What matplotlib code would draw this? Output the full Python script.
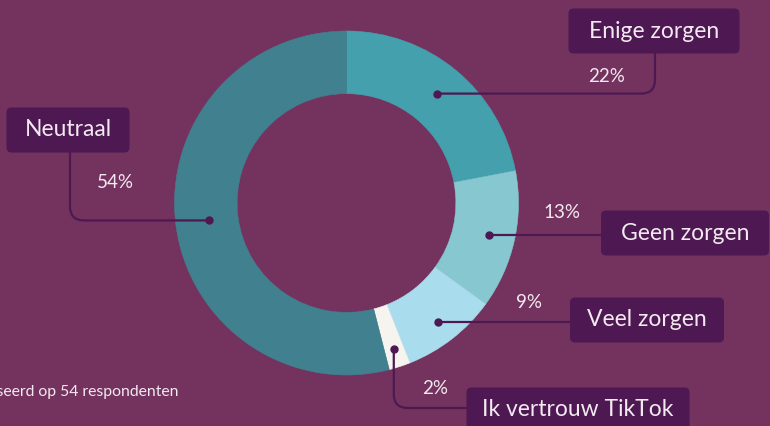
import numpy as np
import matplotlib.pyplot as plt
from matplotlib.patches import FancyBboxPatch
from matplotlib.path import Path
from matplotlib.patches import PathPatch

labels = ["Enige zorgen", "Geen zorgen", "Veel zorgen", "Ik vertrouw TikTok", "Neutraal"]
values = [22, 13, 9, 2, 54]
pct_text = ["22%", "13%", "9%", "2%", "54%"]
colors = ["#45a0ad", "#86c7d0", "#a9dcec", "#f6f4ef", "#41808f"]

bg = "#74335e"
dark = "#4e1852"
txt = "#f3e9f0"

W, H = 770, 426
cx, cy, R = 346.5, H - 203, 172

plt.rcParams['font.family'] = ['Lato', 'DejaVu Sans']
fig = plt.figure(figsize=(7.7, 4.26), dpi=100, facecolor=bg)
ax = fig.add_axes([0, 0, 1, 1])
ax.set_facecolor(bg)
ax.axis('off')

wedges, _ = ax.pie(values, colors=colors, startangle=90, counterclock=False,
                   center=(cx, cy), radius=R,
                   wedgeprops=dict(width=R * 0.364, linewidth=0.4))
for w, c in zip(wedges, colors):
    w.set_edgecolor(c)
ax.set_xlim(0, W)
ax.set_ylim(0, H)
ax.set_aspect('equal')

# box centre (px), box width, connector route, percent label position
layout = {
    "Enige zorgen": dict(box=(654, 31), bw=171, corner=655, side="bottom", pct=(607, 77)),
    "Geen zorgen": dict(box=(685, 233), bw=168, side="left", pct=(562, 213)),
    "Veel zorgen": dict(box=(647, 320), bw=154, side="left", pct=(529, 303)),
    "Ik vertrouw TikTok": dict(box=(578, 410), bw=223, corner=408, side="down_right", pct=(435, 388)),
    "Neutraal": dict(box=(68, 130), bw=123, corner=70, side="bottom", pct=(115, 183)),
}
bh = 45
dot_r = {"Enige zorgen": 142, "Geen zorgen": 146, "Veel zorgen": 150,
         "Ik vertrouw TikTok": 153, "Neutraal": 139}

def curve_path(pts_codes):
    verts = [p for p, c in pts_codes]
    codes = [c for p, c in pts_codes]
    return PathPatch(Path(verts, codes), fill=False, edgecolor=dark, lw=1.6,
                     capstyle='round', zorder=3)

for w, lab, pt in zip(wedges, labels, pct_text):
    mid = np.deg2rad((w.theta1 + w.theta2) / 2)
    r = dot_r[lab]
    dx, dy = cx + r * np.cos(mid), cy + r * np.sin(mid)
    L = layout[lab]
    bx, by = L["box"][0], H - L["box"][1]
    bw = L["bw"]
    ax.add_patch(FancyBboxPatch((bx - bw / 2, by - bh / 2), bw, bh,
                                boxstyle="round,pad=0,rounding_size=5",
                                fc=dark, ec='none', zorder=4))
    ax.text(bx, by, lab, ha='center', va='center', color=txt, fontsize=16.5, zorder=5)
    ax.text(L["pct"][0], H - L["pct"][1], pt, ha='center', va='center',
            color=txt, fontsize=13.5, zorder=5)
    rr = 14
    if L["side"] == "left":
        ax.add_patch(curve_path([((dx, dy), Path.MOVETO),
                                 ((bx - bw / 2, dy), Path.LINETO)]))
    elif L["side"] == "bottom":
        kx = L["corner"]
        top = by - bh / 2
        s = 1 if kx > dx else -1
        ax.add_patch(curve_path([((dx, dy), Path.MOVETO),
                                 ((kx - s * rr, dy), Path.LINETO),
                                 ((kx, dy), Path.CURVE3),
                                 ((kx, dy + rr), Path.CURVE3),
                                 ((kx, top), Path.LINETO)]))
    else:
        ky = H - L["corner"]
        ax.add_patch(curve_path([((dx, dy), Path.MOVETO),
                                 ((dx, ky + rr), Path.LINETO),
                                 ((dx, ky), Path.CURVE3),
                                 ((dx + rr, ky), Path.CURVE3),
                                 ((bx - bw / 2, ky), Path.LINETO)]))
    ax.plot(dx, dy, 'o', ms=5, color=dark, zorder=4)

ax.text(178, H - 392, "Gebaseerd op 54 respondenten", ha='right', va='center',
        color=txt, fontsize=11.3)

fig.savefig("out.png", dpi=100, facecolor=bg)
